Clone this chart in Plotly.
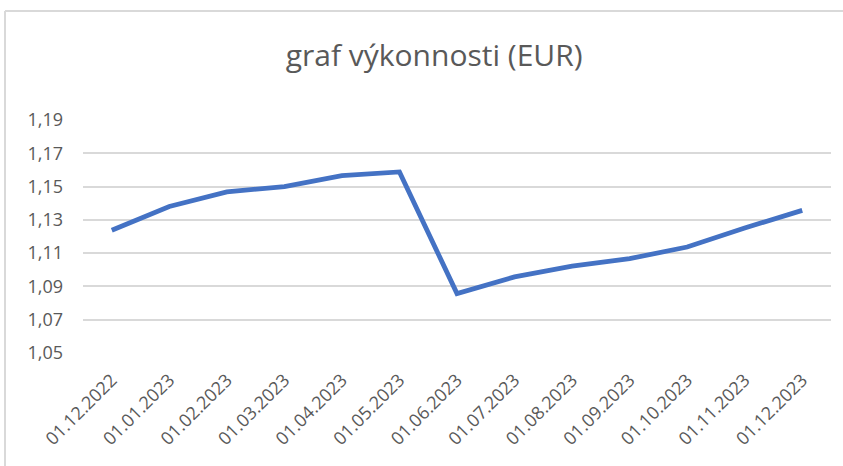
import plotly.graph_objects as go

dates = ["01.12.2022", "01.01.2023", "01.02.2023", "01.03.2023", "01.04.2023",
         "01.05.2023", "01.06.2023", "01.07.2023", "01.08.2023", "01.09.2023",
         "01.10.2023", "01.11.2023", "01.12.2023"]
values = [1.1237, 1.1380, 1.1468, 1.1500, 1.1566, 1.1588, 1.0857, 1.0957,
          1.1022, 1.1067, 1.1137, 1.1251, 1.1357]
y_ticks = [1.05, 1.07, 1.09, 1.11, 1.13, 1.15, 1.17, 1.19]
title_text = "graf výkonnosti (EUR)"

font_family = "Open Sans, Carlito, Liberation Sans, sans-serif"
gray_text = "#595959"

fig = go.Figure()
fig.add_trace(go.Scatter(
    x=dates, y=values, mode="lines",
    line=dict(color="#4472C4", width=4.8),
    hoverinfo="skip",
))

fig.update_layout(
    width=843, height=466,
    margin=dict(l=83, r=12, t=120, b=113),
    paper_bgcolor="white", plot_bgcolor="white",
    separators=",.",
    showlegend=False,
    title=dict(text=title_text, x=0.515, xanchor="center", y=0.88, yanchor="middle",
               font=dict(family=font_family, size=30, color=gray_text)),
    xaxis=dict(
        type="category", range=[-0.5, len(dates) - 0.5], automargin=False,
        tickangle=-45, showgrid=False, showline=False,
        zeroline=False, ticks="", ticklabelstandoff=12,
        tickfont=dict(family=font_family, size=18, color=gray_text),
    ),
    yaxis=dict(
        range=[1.05, 1.19], tickvals=y_ticks, tickformat=".2f", automargin=False,
        showgrid=True, gridcolor="#d9d9d9", gridwidth=1.5,
        zeroline=False, showline=False, ticks="",
        ticklabelstandoff=19,
        tickfont=dict(family=font_family, size=18, color=gray_text),
    ),
    shapes=[
        dict(type="line", xref="paper", yref="paper",
             x0=(5 - 83) / 748, x1=(5 - 83) / 748, y0=(353 - 11) / 233, y1=-1,
             line=dict(color="#d9d9d9", width=2)),
        dict(type="line", xref="paper", yref="paper",
             x0=(5 - 83) / 748, x1=1.1, y0=(353 - 11) / 233, y1=(353 - 11) / 233,
             line=dict(color="#d9d9d9", width=2)),
    ],
)

fig.write_html("out.html", config={"displayModeBar": False},
               post_script="document.body.style.margin='0';")
